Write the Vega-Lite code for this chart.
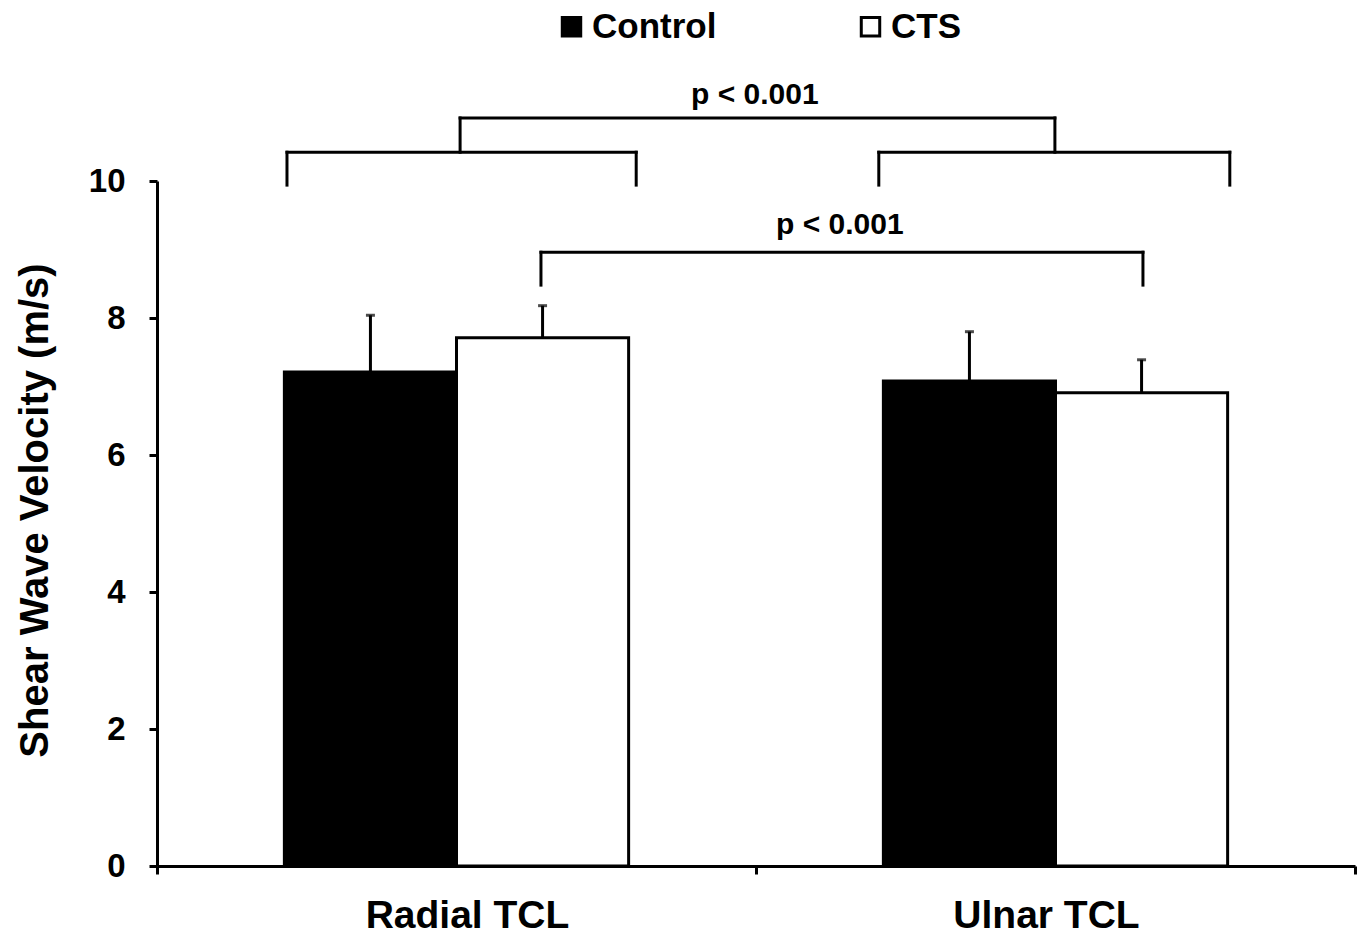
{
  "$schema": "https://vega.github.io/schema/vega-lite/v6.json",
  "autosize": "none",
  "width": 1198,
  "height": 685,
  "padding": {"left": 157, "top": 181, "right": 8, "bottom": 71},
  "background": "white",
  "config": {
    "view": {"stroke": null},
    "font": "Liberation Sans",
    "axis": {"grid": false, "domainColor": "black", "tickColor": "black", "labelColor": "black", "titleColor": "black", "labelFont": "Liberation Sans", "titleFont": "Liberation Sans"}
  },
  "datasets": {
    "bars": [
      {"site": "Radial TCL", "group": "Control", "mean": 7.21, "upper": 8.04},
      {"site": "Radial TCL", "group": "CTS", "mean": 7.71, "upper": 8.18},
      {"site": "Ulnar TCL", "group": "Control", "mean": 7.08, "upper": 7.80},
      {"site": "Ulnar TCL", "group": "CTS", "mean": 6.91, "upper": 7.39}
    ],
    "brackets": [
      {"x1": 0.217, "x2": 0.217, "y1": 9.94, "y2": 10.42},
      {"x1": 0.217, "x2": 0.80, "y1": 10.42, "y2": 10.42},
      {"x1": 0.80, "x2": 0.80, "y1": 9.94, "y2": 10.42},
      {"x1": 0.506, "x2": 0.506, "y1": 10.42, "y2": 10.92},
      {"x1": 0.506, "x2": 1.499, "y1": 10.92, "y2": 10.92},
      {"x1": 1.499, "x2": 1.499, "y1": 10.42, "y2": 10.92},
      {"x1": 1.205, "x2": 1.205, "y1": 9.94, "y2": 10.42},
      {"x1": 1.205, "x2": 1.791, "y1": 10.42, "y2": 10.42},
      {"x1": 1.791, "x2": 1.791, "y1": 9.94, "y2": 10.42},
      {"x1": 0.641, "x2": 0.641, "y1": 8.48, "y2": 8.96},
      {"x1": 0.641, "x2": 1.646, "y1": 8.96, "y2": 8.96},
      {"x1": 1.646, "x2": 1.646, "y1": 8.48, "y2": 8.96}
    ],
    "labels": [
      {"x": 0.998, "y": 11.26, "text": "p < 0.001"},
      {"x": 1.14, "y": 9.36, "text": "p < 0.001"}
    ]
  },
  "layer": [
    {
      "data": {"name": "bars"},
      "encoding": {
        "x": {
          "field": "site", "type": "nominal",
          "scale": {"paddingInner": 0, "paddingOuter": 0},
          "axis": {"orient": "bottom", "title": null, "ticks": false, "domain": false, "labelAngle": 0, "labelFontSize": 39, "labelFontWeight": "bold", "labelPadding": 30, "labelBaseline": "top", "labelLimit": 0, "labelOffset": {"condition": {"test": "datum.value == 'Radial TCL'", "value": 11}, "value": -9}}
        },
        "xOffset": {"field": "group", "type": "nominal", "sort": ["Control", "CTS"], "scale": {"paddingInner": 0, "paddingOuter": 0.74}}
      },
      "layer": [
        {
          "mark": {"type": "rule", "stroke": "black", "strokeWidth": 3},
          "encoding": {
            "y": {"field": "mean", "type": "quantitative"},
            "y2": {"field": "upper"}
          }
        },
        {
          "mark": {"type": "tick", "color": "black", "size": 9, "thickness": 3, "orient": "horizontal"},
          "encoding": {
            "y": {"field": "upper", "type": "quantitative"}
          }
        },
        {
          "mark": {"type": "bar", "stroke": "black", "strokeWidth": 3},
          "encoding": {
            "y": {
              "field": "mean", "type": "quantitative",
              "scale": {"domain": [0, 10], "nice": false},
              "axis": {"values": [0, 2, 4, 6, 8, 10], "format": "d", "title": "Shear Wave Velocity (m/s)", "titleFontSize": 40, "titleFontWeight": "bold", "titlePadding": 33, "titleY": 329, "labelFontSize": 33, "labelFontWeight": "bold", "labelPadding": 24, "tickSize": 8, "tickWidth": 3, "domainWidth": 3}
            },
            "fill": {
              "field": "group", "type": "nominal",
              "scale": {"domain": ["Control", "CTS"], "range": ["black", "white"]},
              "legend": {"orient": "none", "direction": "horizontal", "legendX": 397, "legendY": -172, "title": null, "padding": 0, "symbolType": "square", "symbolSize": 340, "symbolStrokeColor": "black", "symbolStrokeWidth": 3, "labelFontSize": 35, "labelFontWeight": "bold", "labelOffset": 3, "columnPadding": 136, "labelColor": "black"}
            }
          }
        }
      ]
    },
    {
      "encoding": {},
      "layer": [
        {
          "data": {"name": "brackets"},
          "mark": {"type": "rule", "stroke": "black", "strokeWidth": 3, "strokeCap": "square"},
          "encoding": {
            "x": {"field": "x1", "type": "quantitative", "scale": {"domain": [0, 2], "nice": false, "zero": false}, "axis": {"orient": "bottom", "values": [0, 1, 2], "labels": false, "title": null, "tickSize": 8, "tickWidth": 3, "domainWidth": 3}},
            "x2": {"field": "x2"},
            "y": {"field": "y1", "type": "quantitative"},
            "y2": {"field": "y2"}
          }
        },
        {
          "data": {"name": "labels"},
          "mark": {"type": "text", "fontSize": 30, "fontWeight": "bold", "color": "black", "baseline": "middle", "align": "center"},
          "encoding": {
            "x": {"field": "x", "type": "quantitative"},
            "y": {"field": "y", "type": "quantitative"},
            "text": {"field": "text"}
          }
        }
      ]
    }
  ],
  "resolve": {"scale": {"x": "independent"}}
}
